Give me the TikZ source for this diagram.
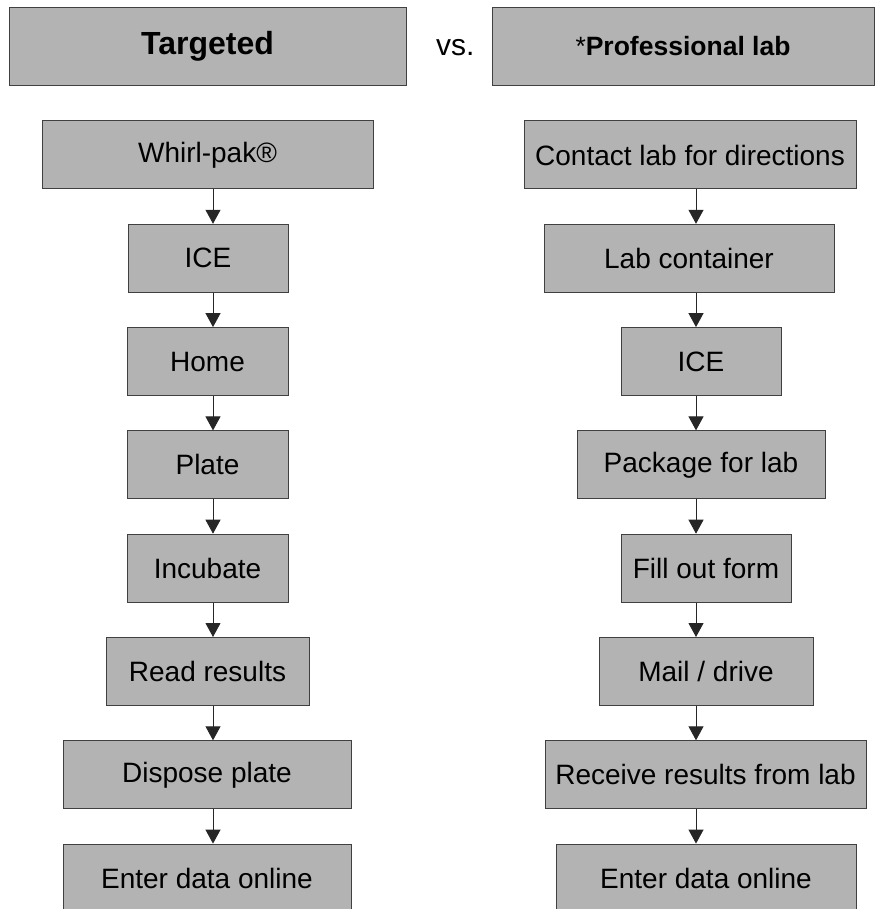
\documentclass[tikz,border=0pt]{standalone}
\usepackage{fontspec}
\setmainfont{Liberation Sans}
\usepackage{tikz}
\usetikzlibrary{arrows.meta}
\definecolor{boxgray}{RGB}{179,179,179}

\begin{document}
\begin{tikzpicture}[x=1pt, y=-1pt,
			stepbox/.style={draw=black!75, fill=boxgray, line width=1pt, inner sep=0pt, minimum height=68pt, font=\fontsize{28}{34}\selectfont},
			headbox/.style={draw=black!75, fill=boxgray, line width=1pt, inner sep=0pt, minimum height=78pt},
			arr/.style={-{Triangle[width=15pt,length=14pt]}, draw=black!85, line width=1pt}
		]
		\useasboundingbox (0,0) rectangle (875,909);
		\clip (0,0) rectangle (875,909);

		\coordinate (lx) at (213,0);
		\coordinate (rx) at (696,0);

		\node[headbox, minimum width=397pt, font=\fontsize{32}{38}\selectfont\bfseries] (targeted) at (207.5,46.5) {Targeted};
		\node[anchor=base west, inner sep=0pt, font=\fontsize{30}{36}\selectfont] (vs) at (436,56) {vs.};
		\node[headbox, minimum width=382pt, font=\fontsize{26.5}{32}\selectfont] (prof) at (683,46.5) {*\textbf{Professional lab}};

		\node[stepbox, minimum width=331pt] (whirl) at (207.5,155) {Whirl-pak®};
		\node[stepbox, minimum width=160pt] (iceL) at (208,258.3) {ICE};
		\node[stepbox, minimum width=161pt] (home) at (207.5,361.6) {Home};
		\node[stepbox, minimum width=161pt] (plate) at (207.5,464.9) {Plate};
		\node[stepbox, minimum width=161pt] (incubate) at (207.5,568.2) {Incubate};
		\node[stepbox, minimum width=203pt] (readres) at (207.5,671.5) {Read results};
		\node[stepbox, minimum width=288pt] (dispose) at (207,774.8) {Dispose plate};
		\node[stepbox, minimum width=288pt] (enterL) at (207,878.1) {Enter data online};

		\node[stepbox, minimum width=332pt] (contact) at (690,155) {Contact lab for directions};
		\node[stepbox, minimum width=290pt] (labcont) at (689,258.3) {Lab container};
		\node[stepbox, minimum width=160pt] (iceR) at (701,361.6) {ICE};
		\node[stepbox, minimum width=248pt] (package) at (701,464.9) {Package for lab};
		\node[stepbox, minimum width=170pt] (fillform) at (706,568.2) {Fill out form};
		\node[stepbox, minimum width=214pt] (mail) at (706,671.5) {Mail / drive};
		\node[stepbox, minimum width=321pt] (receive) at (705.5,774.8) {Receive results from lab};
		\node[stepbox, minimum width=300pt] (enterR) at (706,878.1) {Enter data online};

		\draw[arr] (whirl.south -| lx) -- (iceL.north -| lx);
		\draw[arr] (iceL.south -| lx) -- (home.north -| lx);
		\draw[arr] (home.south -| lx) -- (plate.north -| lx);
		\draw[arr] (plate.south -| lx) -- (incubate.north -| lx);
		\draw[arr] (incubate.south -| lx) -- (readres.north -| lx);
		\draw[arr] (readres.south -| lx) -- (dispose.north -| lx);
		\draw[arr] (dispose.south -| lx) -- (enterL.north -| lx);

		\draw[arr] (contact.south -| rx) -- (labcont.north -| rx);
		\draw[arr] (labcont.south -| rx) -- (iceR.north -| rx);
		\draw[arr] (iceR.south -| rx) -- (package.north -| rx);
		\draw[arr] (package.south -| rx) -- (fillform.north -| rx);
		\draw[arr] (fillform.south -| rx) -- (mail.north -| rx);
		\draw[arr] (mail.south -| rx) -- (receive.north -| rx);
		\draw[arr] (receive.south -| rx) -- (enterR.north -| rx);
	\end{tikzpicture}
\end{document}
